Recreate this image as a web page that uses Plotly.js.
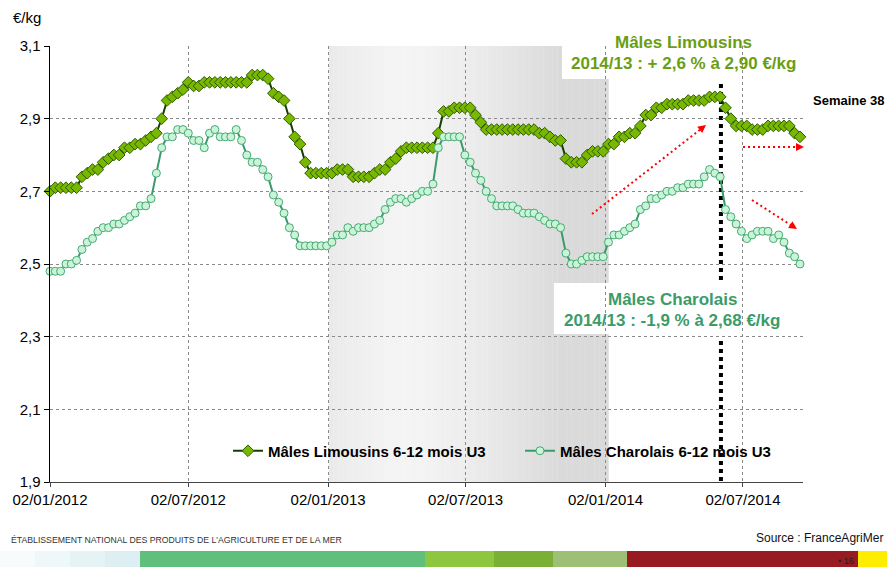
<!DOCTYPE html>
<html>
<head>
<meta charset="utf-8">
<script src="https://cdn.plot.ly/plotly-3.0.1.min.js"></script>
<style>
html,body{margin:0;padding:0;background:#fff;}
#chart{width:887px;height:567px;}
</style>
</head>
<body>
<div id="chart"></div>
<script>
// ---- DATA ----
const firstWeek = '2012-01-02';   // ISO week 1 of 2012 (Monday)
const weekCount = 142;            // 2012-W01 .. 2014-W38
const limousins = [
  2.70,2.71,2.71,2.71,2.71,2.71,2.74,2.75,2.76,2.76,
  2.78,2.79,2.80,2.80,2.82,2.82,2.83,2.83,2.84,2.85,
  2.86,2.90,2.95,2.96,2.97,2.98,3.00,2.99,2.99,3.00,
  3.00,3.00,3.00,3.00,3.00,3.00,3.00,3.00,3.02,3.02,
  3.02,3.01,2.97,2.96,2.95,2.90,2.85,2.83,2.78,2.75,
  2.75,2.75,2.75,2.75,2.76,2.76,2.76,2.74,2.74,2.74,
  2.74,2.75,2.76,2.76,2.78,2.79,2.81,2.82,2.82,2.82,
  2.82,2.82,2.82,2.86,2.92,2.92,2.93,2.93,2.93,2.93,
  2.91,2.89,2.87,2.87,2.87,2.87,2.87,2.87,2.87,2.87,
  2.87,2.87,2.86,2.86,2.85,2.84,2.84,2.79,2.78,2.78,
  2.78,2.80,2.81,2.81,2.81,2.83,2.83,2.85,2.85,2.86,
  2.86,2.88,2.91,2.91,2.93,2.93,2.94,2.94,2.94,2.94,
  2.95,2.95,2.95,2.95,2.96,2.96,2.96,2.93,2.90,2.88,
  2.88,2.88,2.87,2.87,2.87,2.88,2.88,2.88,2.88,2.88,
  2.86,2.85
];
const charolais = [
  2.48,2.48,2.48,2.50,2.50,2.51,2.54,2.56,2.57,2.59,
  2.60,2.60,2.61,2.61,2.62,2.63,2.64,2.66,2.66,2.68,
  2.75,2.82,2.85,2.85,2.87,2.87,2.86,2.84,2.84,2.82,
  2.86,2.87,2.85,2.85,2.85,2.87,2.84,2.80,2.78,2.78,
  2.76,2.74,2.69,2.67,2.64,2.60,2.58,2.55,2.55,2.55,
  2.55,2.55,2.55,2.56,2.58,2.58,2.60,2.59,2.60,2.60,
  2.60,2.61,2.62,2.65,2.67,2.68,2.68,2.67,2.68,2.69,
  2.70,2.70,2.72,2.82,2.85,2.85,2.85,2.85,2.80,2.78,
  2.75,2.73,2.70,2.68,2.66,2.66,2.66,2.66,2.65,2.64,
  2.64,2.64,2.63,2.62,2.61,2.61,2.60,2.53,2.50,2.50,
  2.51,2.52,2.52,2.52,2.52,2.56,2.58,2.58,2.59,2.60,
  2.61,2.65,2.66,2.68,2.68,2.69,2.70,2.70,2.71,2.71,
  2.72,2.72,2.72,2.74,2.76,2.75,2.74,2.65,2.63,2.61,
  2.59,2.57,2.58,2.59,2.59,2.59,2.57,2.58,2.56,2.53,
  2.52,2.50
];
const seriesNames = ['Mâles Limousins 6-12 mois U3', 'Mâles Charolais 6-12 mois U3'];
const xTickVals = ['2012-01-02','2012-07-02','2013-01-02','2013-07-02','2014-01-02','2014-07-02'];
const xTickText = ['02/01/2012','02/07/2012','02/01/2013','02/07/2013','02/01/2014','02/07/2014'];
const yTickVals = [1.9,2.1,2.3,2.5,2.7,2.9,3.1];
const shadedStart = '2013-01-03';
const shadedEnd = '2014-01-06';
const markerDate = '2014-06-03';
const limTitle = 'Mâles Limousins';
const limText = '2014/13 : + 2,6 % à 2,90 €/kg';
const charTitle = 'Mâles Charolais';
const charText = '2014/13 : -1,9 % à 2,68 €/kg';

// weekly dates (category axis)
const dates = [];
const t0 = Date.parse(firstWeek + 'T00:00:00Z');
for (let i = 0; i < weekCount; i++) {
  dates.push(new Date(t0 + i * 7 * 864e5).toISOString().slice(0, 10));
}

// ---- LAYOUT HELPERS ----
const W = 887, H = 567;
const M = {l: 50, r: 84, t: 46, b: 85};
const PW = W - M.l - M.r, PH = H - M.t - M.b;
const px = x => (x - M.l) / PW;
const py = y => 1 - (y - M.t) / PH;
const FONT = 'Liberation Sans, Arial, sans-serif';

const shapes = [];
// gradient band for 2013 (drawn below gridlines)
const s0 = Date.parse(shadedStart + 'T00:00:00Z'), s1 = Date.parse(shadedEnd + 'T00:00:00Z');
const N = 60;
for (let i = 0; i < N; i++) {
  const f = (i + 0.5) / N;
  const d = Math.abs(2 * f - 0.55) / 1.45;
  const g = Math.round(244 - 26 * Math.pow(Math.min(d / 0.75, 1), 1.4));
  shapes.push({type: 'rect', layer: 'below', xref: 'x', yref: 'paper',
    x0: s0 + (s1 - s0) * i / N, x1: s0 + (s1 - s0) * (i + 1.05) / N, y0: 0, y1: 1,
    line: {width: 0}, fillcolor: `rgb(${g},${g},${g})`});
}
// white boxes behind annotations
shapes.push({type: 'rect', layer: 'between', xref: 'paper', yref: 'paper',
  x0: px(562), x1: px(806), y0: py(79), y1: py(24), line: {width: 0}, fillcolor: '#fff'});
shapes.push({type: 'rect', layer: 'between', xref: 'paper', yref: 'paper',
  x0: px(554), x1: px(790), y0: py(334), y1: py(283), line: {width: 0}, fillcolor: '#fff'});
// vertical black dotted line (interrupted by the Charolais label box)
[[481, 337], [280, 82]].forEach(seg => {
  shapes.push({type: 'line', layer: 'between', xref: 'x', yref: 'paper',
    x0: markerDate, x1: markerDate, y0: py(seg[0]), y1: py(seg[1]),
    line: {color: '#000', width: 4, dash: '4px,4px'}});
});
// red dotted arrows (shafts)
const arrows = [
  [592, 214, 706, 125],
  [743, 147, 804, 147],
  [752, 200, 797, 229]
];
arrows.forEach(a => {
  const dx = a[2] - a[0], dy = a[3] - a[1], L = Math.hypot(dx, dy);
  shapes.push({type: 'line', layer: 'above', xref: 'paper', yref: 'paper',
    x0: px(a[0]), y0: py(a[1]), x1: px(a[2] - dx / L * 6), y1: py(a[3] - dy / L * 6),
    line: {color: '#ff0000', width: 2, dash: '2px,3px'}});
});
// footer colour bar
const bar = [
  [0, 35, '#f7fbfc'], [35, 70, '#eef7f9'], [70, 105, '#e6f3f5'], [105, 140, '#ddeff2'],
  [140, 425, '#60bf7b'], [425, 494, '#8dc63f'], [494, 553, '#7ab036'],
  [553, 627, '#9fbf76'], [627, 858, '#971b20'], [858, 887, '#ffed00']
];
bar.forEach(b => shapes.push({type: 'rect', layer: 'above', xref: 'paper', yref: 'paper',
  x0: px(b[0]), x1: px(b[1]), y0: py(567), y1: py(551), line: {width: 0}, fillcolor: b[2]}));

const ann = [];
arrows.forEach(a => {
  const dx = a[2] - a[0], dy = a[3] - a[1], L = Math.hypot(dx, dy);
  ann.push({xref: 'paper', yref: 'paper', x: px(a[2]), y: py(a[3]), text: '',
    showarrow: true, ax: -dx / L * 9, ay: -dy / L * 9, arrowhead: 2, arrowsize: 1,
    arrowwidth: 1.6, arrowcolor: '#ff0000'});
});
const txt = (x, y, text, size, color, bold, anchor) => ({
  xref: 'paper', yref: 'paper', x: px(x), y: py(y), text: bold ? '<b>' + text + '</b>' : text,
  showarrow: false, xanchor: anchor || 'center', yanchor: 'middle',
  font: {family: FONT, size: size, color: color}
});
ann.push(txt(683, 42, limTitle, 17, '#6a9e12', true));
ann.push(txt(683, 63, limText, 17, '#6a9e12', true));
ann.push(txt(672, 299, charTitle, 17, '#3c9b69', true));
ann.push(txt(672, 320, charText, 17, '#3c9b69', true));
ann.push(txt(849, 101, 'Semaine 38', 13, '#000', true));
ann.push(txt(11, 18, '€/kg', 15, '#000', false, 'left'));
ann.push(txt(9, 540, "ÉTABLISSEMENT NATIONAL DES PRODUITS DE L'AGRICULTURE ET DE LA MER", 8.7, '#333', false, 'left'));
ann.push(txt(885, 538, 'Source : FranceAgriMer', 12, '#111', false, 'right'));
ann.push(txt(856, 561, '• 16', 9, '#222', false, 'right'));

const traces = [
  {x: dates, y: limousins, name: '<b>' + seriesNames[0] + '</b>', type: 'scatter', mode: 'lines+markers',
   cliponaxis: false,
   line: {color: '#143f00', width: 2},
   marker: {symbol: 'diamond', size: 9, color: '#79b800', line: {color: '#2e5a00', width: 1}}},
  {x: dates, y: charolais, name: '<b>' + seriesNames[1] + '</b>', type: 'scatter', mode: 'lines+markers',
   cliponaxis: false,
   line: {color: '#3a9a6c', width: 2},
   marker: {symbol: 'circle', size: 8, color: '#c9f5d6', line: {color: '#48a878', width: 1}}}
];

const layout = {
  width: W, height: H, margin: M,
  paper_bgcolor: '#fff', plot_bgcolor: 'rgba(0,0,0,0)',
  separators: ', ',
  font: {family: FONT, size: 15, color: '#000'},
  showlegend: true,
  legend: {orientation: 'h', x: px(228), y: py(451), xanchor: 'left', yanchor: 'middle',
    bgcolor: 'rgba(0,0,0,0)', font: {family: FONT, size: 15, color: '#000'},
    entrywidth: 247, entrywidthmode: 'pixels', itemwidth: 30},
  xaxis: {type: 'date', range: ['2012-01-02', '2014-09-19'],
    tickvals: xTickVals, ticktext: xTickText, tickangle: 0,
    showgrid: true, gridcolor: '#8a8a8a', griddash: 'dot', gridwidth: 1,
    showline: true, linecolor: '#444', linewidth: 1,
    ticks: 'outside', ticklen: 4, tickcolor: '#444',
    zeroline: false, tickfont: {family: FONT, size: 15, color: '#000'}},
  yaxis: {range: [1.9, 3.1], tickvals: yTickVals, tickformat: '.1f',
    showgrid: true, gridcolor: '#8a8a8a', griddash: 'dot', gridwidth: 1,
    showline: true, linecolor: '#000', linewidth: 1.5,
    ticks: 'outside', ticklen: 5, tickcolor: '#000',
    zeroline: false, tickfont: {family: FONT, size: 15, color: '#000'}},
  shapes: shapes,
  annotations: ann
};

Plotly.newPlot('chart', traces, layout, {staticPlot: true, displayModeBar: false});
</script>
</body>
</html>
